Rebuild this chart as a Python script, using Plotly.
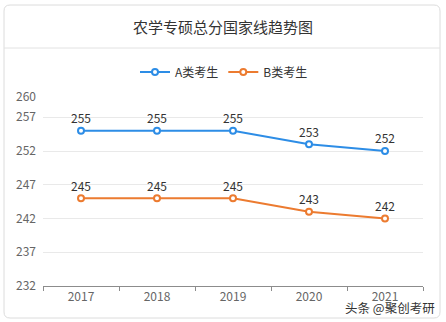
import plotly.graph_objects as go

years = ["2017", "2018", "2019", "2020", "2021"]
scores_a = [255, 255, 255, 253, 252]
scores_b = [245, 245, 245, 243, 242]
y_ticks = [232, 237, 242, 247, 252, 257, 260]
series_names = ["A类考生", "B类考生"]
title_text = "农学专硕总分国家线趋势图"
credit_text = "头条 @聚创考研"

W, H = 446, 322
L, R, T, B = 43, 23, 97, 36
PW, PH = W - L - R, H - T - B

def px(x):
    return (x - L) / PW

def py(y):
    return 1 - (y - T) / PH

FONT = "Noto Sans CJK SC, Microsoft YaHei, sans-serif"
BLUE = "#2d8de6"
ORANGE = "#ec7b30"

fig = go.Figure()
for name, vals, color in [(series_names[0], scores_a, BLUE), (series_names[1], scores_b, ORANGE)]:
    fig.add_trace(go.Scatter(
        x=years, y=vals, name=name, mode="lines+markers+text",
        text=[str(v) for v in vals], textposition="top center",
        textfont=dict(size=12, color="#333333", family=FONT),
        line=dict(color=color, width=2),
        marker=dict(symbol="circle", size=6, color="white",
                    line=dict(color=color, width=2)),
        cliponaxis=False,
    ))

# rounded card outline
x0, x1, y0, y1, r = px(4), px(440), py(318), py(5), 6
rx, ry = r / PW, r / PH
card = (f"M {x0+rx},{y1} L {x1-rx},{y1} Q {x1},{y1} {x1},{y1-ry} "
        f"L {x1},{y0+ry} Q {x1},{y0} {x1-rx},{y0} L {x0+rx},{y0} "
        f"Q {x0},{y0} {x0},{y0+ry} L {x0},{y1-ry} Q {x0},{y1} {x0+rx},{y1} Z")

fig.update_layout(
    width=W, height=H,
    margin=dict(l=L, r=R, t=T, b=B),
    paper_bgcolor="white", plot_bgcolor="white",
    font=dict(family=FONT, size=12, color="#666666"),
    showlegend=True,
    legend=dict(orientation="h", x=px(224), xanchor="center", y=py(72), yanchor="middle",
                font=dict(size=12, color="#333333", family=FONT),
                itemwidth=30, tracegroupgap=0, bgcolor="rgba(0,0,0,0)"),
    xaxis=dict(type="category", range=[-0.5, 4.5], showgrid=False,
               showline=True, linecolor="#8c8c8c", linewidth=1,
               ticks="outside", tickson="boundaries", ticklen=4, tickcolor="#8c8c8c",
               tickfont=dict(size=12, color="#666666"), fixedrange=True),
    yaxis=dict(range=[232, 260], tickvals=y_ticks, showgrid=True,
               gridcolor="#e9e9e9", gridwidth=1, zeroline=False, showline=False,
               ticks="", ticklabelstandoff=6,
               tickfont=dict(size=12, color="#666666"), fixedrange=True),
    shapes=[
        dict(type="path", xref="paper", yref="paper", path=card,
             line=dict(color="#dcdcdc", width=1), layer="below"),
        dict(type="line", xref="paper", yref="paper", x0=px(4), x1=px(440),
             y0=py(48), y1=py(48), line=dict(color="#e2e2e2", width=1)),
    ],
    annotations=[
        dict(text=title_text, xref="paper", yref="paper", x=px(223), y=py(26),
             xanchor="center", yanchor="middle", showarrow=False,
             font=dict(size=15, color="#333333", family=FONT)),
        dict(text=credit_text, xref="paper", yref="paper", x=px(437), y=py(307),
             xanchor="right", yanchor="middle", showarrow=False,
             font=dict(size=12.5, color="#333333", family=FONT)),
    ],
)

fig.write_html("out.html", config={"displayModeBar": False})
